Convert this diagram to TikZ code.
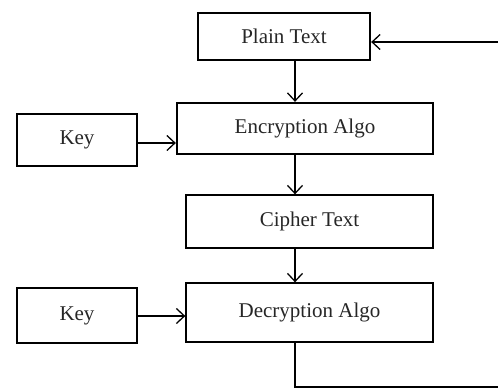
\documentclass[tikz,border=0pt]{standalone}
\usepackage{fontspec}
\setmainfont{Liberation Serif}
\usetikzlibrary{arrows.meta}
\tikzset{>={Straight Barb[length=8pt,width=15pt]}}
\newcommand{\blockfont}{\fontsize{21}{25}\selectfont}
\tikzstyle{block}=[rectangle, draw, line width=1.3pt, inner sep=0pt, text=black!85, font=\blockfont]
\tikzstyle{heavy}=[line width=2.3pt]
\newcommand{\block}{\node[block]}

\begin{document}
\begin{tikzpicture}[x=1pt, y=-1pt]
\useasboundingbox (0,0) rectangle (498,388);
\block[heavy, minimum width=172pt, minimum height=47pt] (plain) at (284,36.5) {Plain Text};
\block[heavy, minimum width=256pt, minimum height=51pt] (enc) at (305,128.5) {Encryption Algo};
\block[minimum width=120pt, minimum height=52pt] (key1) at (77,140) {Key};
\block[minimum width=247pt, minimum height=53pt] (cipher) at (309.5,221.5) {Cipher Text};
\block[minimum width=247pt, minimum height=59pt] (dec) at (309.5,312.5) {Decryption Algo};
\block[minimum width=120pt, minimum height=55pt] (key2) at (77,315.5) {Key};
\coordinate (axis) at (295,0);
\coordinate (br) at (498,387);
\coordinate (tr) at (498,42);
\draw [line width=1.3pt]
(plain.south -| axis) edge[->] (enc.north -| axis)
(enc.south -| axis) edge[->] (cipher.north -| axis)
(cipher.south -| axis) edge[->] (dec.north -| axis)
(key1.east |- 0,143) edge[->] (enc.west |- 0,143)
(key2.east |- 0,316) edge[->] (dec.west |- 0,316);
\draw [->,line width=1.3pt] (tr) -- (tr -| plain.east);
\draw [line width=1.3pt] (dec.south -| axis) |- (br);
\end{tikzpicture}
\end{document}
